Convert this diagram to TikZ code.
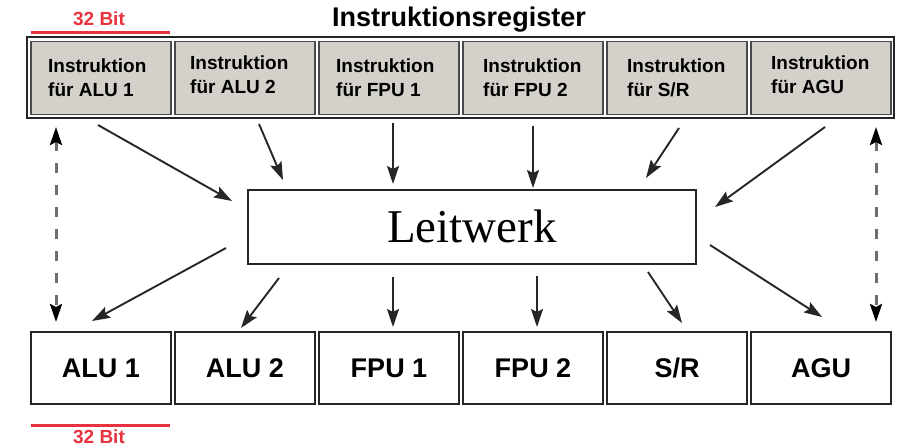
\documentclass[tikz,border=0pt]{standalone}
\usepackage{fontspec}
\setmainfont{Liberation Sans}
\newfontfamily\leitfont{Liberation Serif}
\usetikzlibrary{arrows.meta}
\definecolor{cellgray}{HTML}{D4D1CA}
\definecolor{celledge}{HTML}{4A4A4A}
\definecolor{linedark}{HTML}{262626}
\definecolor{bitred}{HTML}{E5323E}
\definecolor{dashgray}{HTML}{6E6E6E}
\tikzset{
  regbox/.style={draw=linedark, fill=white, line width=2pt, minimum width=867pt, minimum height=81pt, inner sep=0pt},
  cellbox/.style={draw=celledge, fill=cellgray, line width=1.2pt, minimum width=140pt, minimum height=73pt, inner sep=0pt},
  celltxt/.style={font=\bfseries\fontsize{19}{24}\selectfont, align=left, inner sep=0pt, anchor=west},
  unitbox/.style={draw=linedark, line width=1.5pt, minimum width=140pt, minimum height=72pt, inner sep=0pt,
                  font=\bfseries\fontsize{27}{32}\selectfont, text height=19.3pt, text depth=0pt},
  leitbox/.style={draw=linedark, line width=1.5pt, minimum width=448pt, minimum height=74pt, inner sep=0pt,
                  font=\leitfont\fontsize{47}{52}\selectfont, text height=31pt, text depth=0pt},
  bittxt/.style={text=bitred, font=\bfseries\fontsize{19}{22}\selectfont, inner sep=0pt, anchor=base},
  bitline/.style={draw=bitred, line width=3pt},
  arr/.style={draw=linedark, line width=1.9pt, -{Stealth[length=18pt,width=12pt,inset=3pt]}},
  dasharr/.style={draw=dashgray, line width=3pt, dash pattern=on 10pt off 12pt,
                  {Stealth[length=18pt,width=12pt,inset=3pt,color=black]}-{Stealth[length=18pt,width=12pt,inset=3pt,color=black]}}
}
\begin{document}
\begin{tikzpicture}[x=1pt,y=-1pt]
\useasboundingbox (0,0) rectangle (902,447);

% title
\node[font=\bfseries\fontsize{27}{30}\selectfont, inner sep=0pt, anchor=base] (title) at (459,26) {Instruktionsregister};

% 32 Bit markers
\coordinate (rt1) at (31,32);
\coordinate (rt2) at (170,32);
\draw[bitline] (rt1) -- (rt2);
\node[bittxt] (bt) at (99,25) {32 Bit};
\coordinate (rb1) at (31,425);
\coordinate (rb2) at (170,425);
\draw[bitline] (rb1) -- (rb2);
\node[bittxt] (bb) at (99,443) {32 Bit};

% register with cells
\node[regbox] (reg) at (460.5,77.5) {};
\foreach \i in {1,...,6} {
  \node[cellbox] (c\i) at ({31+144*(\i-1)+70},78) {};
}
\node[celltxt] (t1) at (48,78)  {Instruktion\\für ALU 1};
\node[celltxt] (t2) at (190,75) {Instruktion\\für ALU 2};
\node[celltxt] (t3) at (336,78) {Instruktion\\für FPU 1};
\node[celltxt] (t4) at (483,78) {Instruktion\\für FPU 2};
\node[celltxt] (t5) at (627,78) {Instruktion\\für S/R};
\node[celltxt] (t6) at (771,75) {Instruktion\\für AGU};

% Leitwerk
\node[leitbox] (L) at (472,227) {Leitwerk};

% units
\node[unitbox] (u1) at (101,368) {ALU 1};
\node[unitbox] (u2) at (245,368) {ALU 2};
\node[unitbox] (u3) at (389,368) {FPU 1};
\node[unitbox] (u4) at (533,368) {FPU 2};
\node[unitbox] (u5) at (677,368) {S/R};
\node[unitbox] (u6) at (821,368) {AGU};

% arrow end points
\coordinate (s1) at (98,125);  \coordinate (e1) at (232,201);
\coordinate (s2) at (259,124); \coordinate (e2) at (283,180);
\coordinate (s3) at (393,123); \coordinate (e3) at (393,184);
\coordinate (s4) at (533,126); \coordinate (e4) at (533,188);
\coordinate (s5) at (679,128); \coordinate (e5) at (646,178);
\coordinate (s6) at (825,127); \coordinate (e6) at (715,207);

\coordinate (f1) at (226,248); \coordinate (g1) at (92,321);
\coordinate (f2) at (279,278); \coordinate (g2) at (241,328);
\coordinate (f3) at (393,277); \coordinate (g3) at (393,327);
\coordinate (f4) at (537,276); \coordinate (g4) at (537,327);
\coordinate (f5) at (648,272); \coordinate (g5) at (682,323);
\coordinate (f6) at (710,245); \coordinate (g6) at (822,317);

\coordinate (dl1) at (56,127); \coordinate (dl2) at (56,322);
\coordinate (dr1) at (876,127); \coordinate (dr2) at (876,322);

\foreach \k in {1,...,6} {
  \draw[arr] (s\k) -- (e\k);
  \draw[arr] (f\k) -- (g\k);
}
\draw[dasharr] (dl1) -- (dl2);
\draw[dasharr] (dr1) -- (dr2);
\end{tikzpicture}
\end{document}
